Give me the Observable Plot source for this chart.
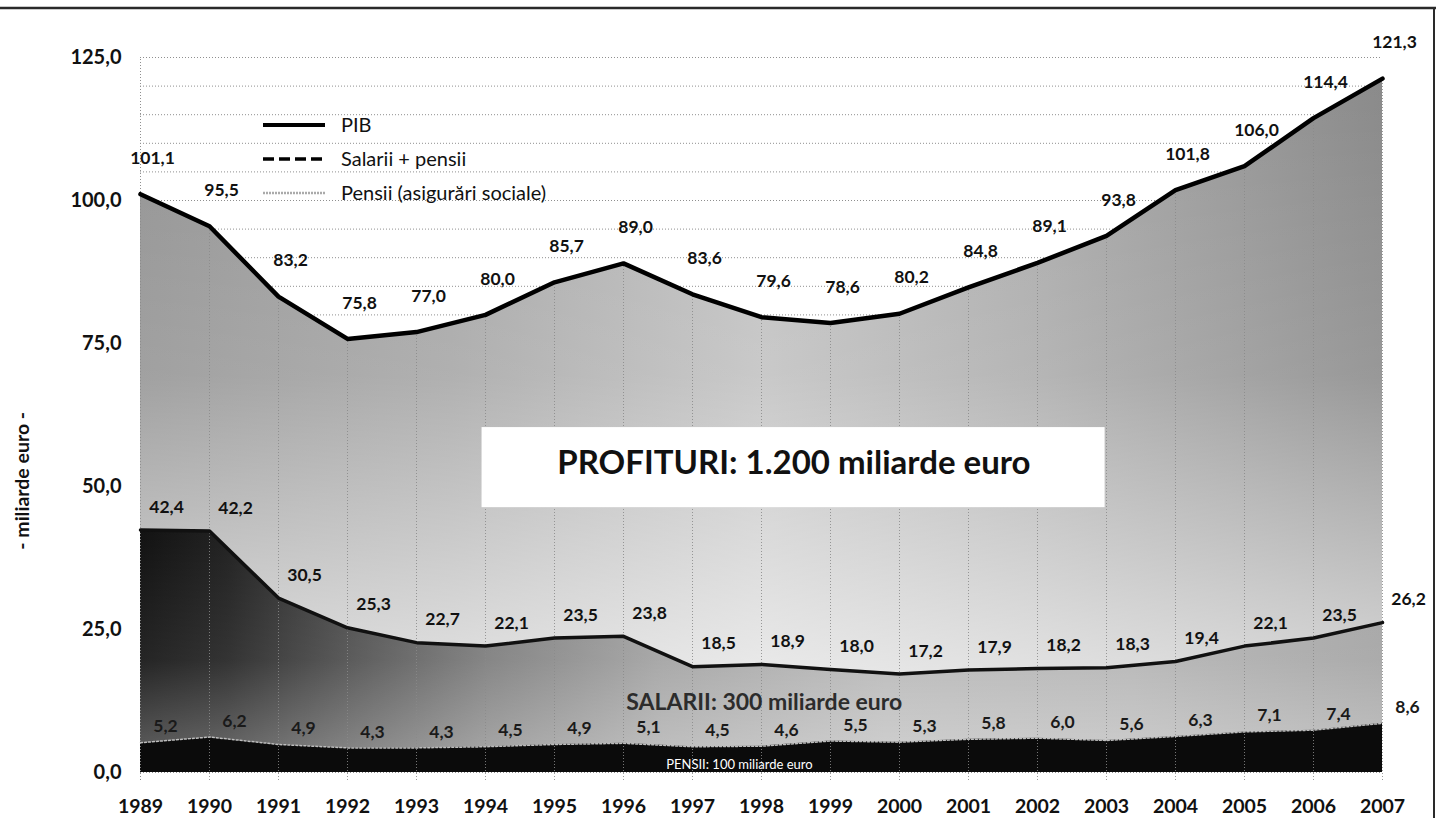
<!DOCTYPE html>
<html>
<head>
<meta charset="utf-8">
<script src="https://cdn.jsdelivr.net/npm/d3@7"></script>
<script src="https://cdn.jsdelivr.net/npm/@observablehq/plot@0.6"></script>
<style>
  html, body { margin: 0; padding: 0; background: #fff; }
  #chart { position: relative; width: 1440px; height: 818px; }
</style>
</head>
<body>
<div id="chart"></div>
<script>
// ---- data ----
const years = [1989,1990,1991,1992,1993,1994,1995,1996,1997,1998,1999,2000,2001,2002,2003,2004,2005,2006,2007];
const pib = [101.1,95.5,83.2,75.8,77.0,80.0,85.7,89.0,83.6,79.6,78.6,80.2,84.8,89.1,93.8,101.8,106.0,114.4,121.3];
const salariiPensii = [42.4,42.2,30.5,25.3,22.7,22.1,23.5,23.8,18.5,18.9,18.0,17.2,17.9,18.2,18.3,19.4,22.1,23.5,26.2];
const pensii = [5.2,6.2,4.9,4.3,4.3,4.5,4.9,5.1,4.5,4.6,5.5,5.3,5.8,6.0,5.6,6.3,7.1,7.4,8.6];
const yTicks = [0,25,50,75,100,125];
const gridValues = d3.range(0, 126, 5);
const legendLabels = ["PIB", "Salarii + pensii", "Pensii (asigurări sociale)"];
const axisTitle = "- miliarde euro -";
const profitText = "PROFITURI: 1.200 miliarde euro";
const salariiText = "SALARII: 300 miliarde euro";
const pensiiText = "PENSII: 100 miliarde euro";

const rows = years.map((year, i) => ({year, pib: pib[i], sal: salariiPensii[i], pen: pensii[i]}));
const fmt = v => v.toFixed(1).replace(".", ",");
const FONT = "Lato, 'Open Sans', sans-serif";

const plot = Plot.plot({
  width: 1440,
  height: 818,
  marginLeft: 140,
  marginRight: 58,
  marginTop: 57,
  marginBottom: 46,
  style: {fontFamily: FONT, background: "#fff", color: "#111", overflow: "visible"},
  x: {domain: [1989, 2007]},
  y: {domain: [0, 125]},
  marks: [
    Plot.ruleY(gridValues, {stroke: "#8f8f8f", strokeDasharray: "1,2", strokeWidth: 1}),
    Plot.ruleX([1989], {y1: -1.4, y2: 125, stroke: "#8f8f8f", strokeDasharray: "1,2"}),
    Plot.areaY(rows, {x: "year", y1: "sal", y2: "pib", fill: "url(#gPib)"}),
    Plot.areaY(rows, {x: "year", y1: "sal", y2: "pib", fill: "url(#gPibV)"}),
    Plot.areaY(rows, {x: "year", y1: "pen", y2: "sal", fill: "url(#gSal)"}),
    Plot.areaY(rows, {x: "year", y1: "pen", y2: "sal", fill: "url(#gSalV)"}),
    Plot.areaY(rows, {x: "year", y1: 0, y2: "pen", fill: "#0b0b0b"}),
    Plot.ruleX(rows, {x: "year", y1: -1.4, y2: "pib", stroke: "#8a8a8a", strokeDasharray: "1,2", strokeOpacity: 0.85}),
    Plot.lineY(rows, {x: "year", y: "pen", stroke: "#bdbdbd", strokeDasharray: "2,2", strokeWidth: 1.5}),
    Plot.lineY(rows, {x: "year", y: "sal", stroke: "#111", strokeWidth: 3.5}),
    Plot.lineY(rows, {x: "year", y: "pib", stroke: "#000", strokeWidth: 4.5}),
    // PROFITURI box
    Plot.rect([profitText], {x1: 1993.95, x2: 2002.98, y1: 46.3, y2: 60.3, fill: "#fff"}),
    Plot.text([profitText], {x: 1998.47, y: 54.0, text: d => d, fontSize: 33, fontWeight: "bold", fill: "#111"}),
    Plot.text([salariiText], {x: 1998.04, y: 12.2, text: d => d, fontSize: 23, fontWeight: "bold", fill: "#2c2c2c"}),
    Plot.text([pensiiText], {x: 1997.68, y: 1.4, text: d => d, fontSize: 13, fill: "#fff"}),
    // data labels
    Plot.text(rows, {x: "year", y: "pib", text: d => fmt(d.pib), dx: 12, dy: -36, fontSize: 17.5, fontWeight: "bold", fill: "#111"}),
    Plot.text(rows, {x: "year", y: "sal", text: d => fmt(d.sal), dx: 26, dy: -23, fontSize: 17.5, fontWeight: "bold", fill: "#111"}),
    Plot.text(rows, {x: "year", y: "pen", text: d => fmt(d.pen), dx: 25, dy: -16, fontSize: 17.5, fontWeight: "bold", fill: "#1a1a1a"}),
    // axes
    Plot.axisX({ticks: years, tickFormat: d => String(d), tickSize: 0, tickPadding: 27, fontSize: 19.5, fontWeight: "bold", label: null}),
    Plot.axisY({ticks: yTicks, tickFormat: fmt, tickSize: 0, tickPadding: 19, fontSize: 20, fontWeight: "bold", label: null}),
    Plot.text([axisTitle], {x: 1989, y: 51, text: d => d, dx: -118, rotate: -90, fontSize: 19.5, fontWeight: "bold", fill: "#111"})
  ]
});

// gradients
const svg = d3.select(plot);
const defs = svg.insert("defs", ":first-child");
function lin(id, stops, vertical) {
  const g = defs.append("linearGradient").attr("id", id)
    .attr("x1", 0).attr("y1", 0).attr("x2", vertical ? 0 : 1).attr("y2", vertical ? 1 : 0);
  stops.forEach(([o, c, a]) => g.append("stop").attr("offset", o).attr("stop-color", c).attr("stop-opacity", a == null ? 1 : a));
}
lin("gPib", [[0, "#949494"], [0.25, "#a6a6a6"], [0.5, "#c2c2c2"], [0.72, "#acacac"], [1, "#8a8a8a"]]);
lin("gPibV", [[0, "#fff", 0], [0.5, "#fff", 0.12], [1, "#fff", 0.65]], true);
lin("gSal", [[0, "#121212"], [0.07, "#222"], [0.16, "#4a4a4a"], [0.28, "#7c7c7c"], [0.42, "#a2a2a2"], [0.6, "#b8b8b8"], [0.8, "#b4b4b4"], [1, "#a4a4a4"]]);
lin("gSalV", [[0, "#fff", 0], [0.6, "#fff", 0.08], [1, "#fff", 0.3]], true);

// frame lines
svg.append("line").attr("x1", 0).attr("x2", 1436).attr("y1", 8).attr("y2", 8).attr("stroke", "#2a2a2a").attr("stroke-width", 2.5);
svg.append("line").attr("x1", 1434).attr("x2", 1434).attr("y1", 8).attr("y2", 818).attr("stroke", "#2a2a2a").attr("stroke-width", 2);

// legend
const lg = svg.append("g")
  .style("font-family", FONT).style("font-size", "20px").style("font-weight", "normal")
  .attr("text-anchor", "start").attr("fill", "#111");
const ly = [125, 159, 193];
lg.append("line").attr("x1", 263).attr("x2", 325).attr("y1", ly[0]).attr("y2", ly[0]).attr("stroke", "#000").attr("stroke-width", 4);
lg.append("line").attr("x1", 263).attr("x2", 325).attr("y1", ly[1]).attr("y2", ly[1]).attr("stroke", "#000").attr("stroke-width", 3.5).attr("stroke-dasharray", "11,5");
lg.append("line").attr("x1", 263).attr("x2", 325).attr("y1", ly[2]).attr("y2", ly[2]).attr("stroke", "#aaa").attr("stroke-width", 2.5).attr("stroke-dasharray", "2,1");
legendLabels.forEach((t, i) => lg.append("text").attr("x", 341).attr("y", ly[i]).attr("dy", "0.35em").attr("text-anchor", "start").text(t));

document.getElementById("chart").appendChild(plot);
</script>
</body>
</html>
